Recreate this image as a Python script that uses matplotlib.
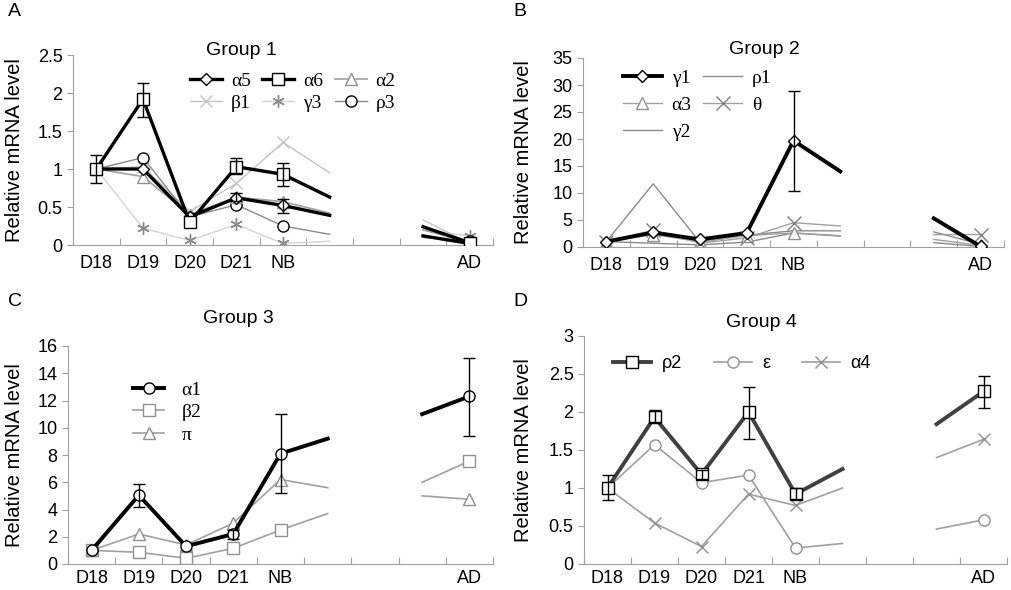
import numpy as np
import matplotlib
matplotlib.use("Agg")
import matplotlib.pyplot as plt

plt.rcParams['font.family'] = ['Liberation Sans', 'DejaVu Sans']

nan = np.nan
stages = ["D18", "D19", "D20", "D21", "NB", "", "", "", "AD"]
# index 5 and 7 are the unlabeled break points, 6 is the gap
x = np.arange(len(stages))

# Group 1
a5 = [1.0, 1.0, 0.37, 0.62, 0.52, 0.39, nan, 0.12, 0.02]
a6 = [1.0, 1.92, 0.30, 1.03, 0.93, 0.63, nan, 0.24, 0.03]
a2 = [1.0, 0.90, 0.40, 0.63, 0.57, 0.42, nan, 0.20, 0.03]
b1 = [1.0, 1.03, 0.44, 0.81, 1.35, 0.95, nan, 0.33, 0.02]
g3 = [1.0, 0.22, 0.06, 0.27, 0.02, 0.05, nan, 0.20, 0.12]
r3 = [1.0, 1.15, 0.37, 0.53, 0.25, 0.14, nan, 0.10, 0.05]
a6_lo = [0.82, 1.69, nan, 0.93, 0.77, nan, nan, nan, nan]
a6_hi = [1.18, 2.13, nan, 1.14, 1.08, nan, nan, nan, nan]
a5_lo = [nan, nan, nan, 0.58, 0.42, nan, nan, nan, nan]
a5_hi = [nan, nan, nan, 0.68, 0.60, nan, nan, nan, nan]

# Group 2
g1 = [1.0, 2.7, 1.4, 2.6, 19.7, 14.0, nan, 5.3, 0.1]
r1 = [1.0, 11.7, 0.9, 2.2, 3.0, 3.0, nan, 2.8, 0.5]
a3 = [1.0, 2.3, 1.0, 2.1, 2.6, 2.1, nan, 1.4, 0.3]
th = [1.0, 3.1, 0.7, 1.7, 4.5, 3.9, nan, 2.3, 2.3]
g2 = [1.0, 0.7, 0.4, 0.9, 2.6, 2.0, nan, 0.8, 0.1]
g1_lo = [nan, nan, nan, nan, 10.3, nan, nan, nan, nan]
g1_hi = [nan, nan, nan, nan, 28.9, nan, nan, nan, nan]

# Group 3
a1 = [1.0, 5.05, 1.3, 2.2, 8.1, 9.2, nan, 11.0, 12.3]
b2 = [1.0, 0.86, 0.42, 1.15, 2.5, 3.7, nan, 6.0, 7.55]
pi = [1.0, 2.2, 1.4, 3.0, 6.2, 5.6, nan, 5.0, 4.75]
a1_lo = [nan, 4.2, nan, 1.85, 5.2, nan, nan, nan, 9.4]
a1_hi = [nan, 5.9, nan, 2.5, 11.0, nan, nan, nan, 15.1]

# Group 4
r2 = [1.0, 1.93, 1.18, 2.0, 0.92, 1.25, nan, 1.84, 2.27]
ep = [1.0, 1.57, 1.07, 1.17, 0.21, 0.27, nan, 0.46, 0.58]
a4 = [1.0, 0.54, 0.23, 0.92, 0.77, 1.0, nan, 1.4, 1.64]
r2_lo = [0.84, 1.87, 1.12, 1.65, 0.85, nan, nan, nan, 2.05]
r2_hi = [1.17, 2.03, 1.24, 2.33, 1.0, nan, nan, nan, 2.47]

marked = [0, 1, 2, 3, 4, 8]
W, H = 1011, 590
fig = plt.figure(figsize=(W / 100, H / 100), dpi=100)


def make_ax(left, right, bottom, top, ymax, ystep, xpad, ylab_x):
    ax = fig.add_axes([left / W, 1 - bottom / H, (right - left) / W, (bottom - top) / H])
    ax.set_xlim(-0.5, 8.5)
    ax.set_ylim(0, ymax)
    ax.set_xticks(np.arange(-0.5, 9, 1))
    ax.set_xticklabels([])
    ax.set_xticks(x, minor=True)
    ax.set_xticklabels(stages, minor=True)
    ax.tick_params(axis='x', which='major', length=5, direction='in', color='#a0a0a0')
    ax.tick_params(axis='x', which='minor', length=0, labelsize=13, pad=xpad)
    yt = np.arange(0, ymax + ystep / 2, ystep)
    ax.set_yticks(yt)
    ax.set_yticklabels(['%g' % v for v in yt])
    ax.tick_params(axis='y', length=4, color='#a0a0a0', labelsize=13)
    for s in ['top', 'right']:
        ax.spines[s].set_visible(False)
    for s in ['left', 'bottom']:
        ax.spines[s].set_color('#a0a0a0')
    ax.set_ylabel("Relative mRNA level", fontsize=14.5)
    ax.yaxis.set_label_coords((ylab_x - left) / (right - left), 0.5)
    return ax


def series(ax, y, color, lw, marker, ms, label, mec=None, mfc='white', z=2):
    ax.plot(x, y, color=color, lw=lw, marker=marker, ms=ms, markevery=marked,
            mec=mec or color, mfc=mfc, mew=1.0, label=label, zorder=z)


def errs(ax, y, lo, hi, color='black'):
    y = np.array(y); lo = np.array(lo); hi = np.array(hi)
    m = ~np.isnan(lo)
    ax.errorbar(x[m], y[m], yerr=[y[m] - lo[m], hi[m] - y[m]], fmt='none',
                ecolor=color, elinewidth=1.0, capsize=4, capthick=1.0, zorder=5)


def legend(ax, order, px, py, **kw):
    h, l = ax.get_legend_handles_labels()
    hs = [h[l.index(k)] for k in order]
    ax.legend(hs, order, loc='upper left', bbox_to_anchor=(px / W, 1 - py / H),
              bbox_transform=fig.transFigure, frameon=False, borderpad=0,
              borderaxespad=0, **kw)


serif = {'family': 'Liberation Serif', 'size': 14}

# Panel A
ax = make_ax(73, 493, 245, 55, 2.5, 0.5, 7, 24)
series(ax, g3, '#d4d4d4', 1.0, (6, 2, 0), 9, 'γ3', mec='#8a8a8a')
series(ax, b1, '#c4c4c4', 1.0, 'x', 8, 'β1')
series(ax, r3, '#8a8a8a', 1.0, 'o', 8, 'ρ3', mec='black')
series(ax, a2, '#a0a0a0', 1.2, '^', 8, 'α2', mec='#909090')
series(ax, a5, 'black', 2.4, 'D', 6, 'α5', z=3)
series(ax, a6, 'black', 2.4, 's', 8, 'α6', z=3)
errs(ax, a6, a6_lo, a6_hi)
errs(ax, a5, a5_lo, a5_hi)
legend(ax, ['α5', 'β1', 'α6', 'γ3', 'α2', 'ρ3'], 190, 72, ncol=3,
       handlelength=1.65, handletextpad=0.45, columnspacing=0.6, labelspacing=0.25, prop=serif)
ax.text(0.4, 1.026, "Group 1", transform=ax.transAxes, ha='center', va='center', fontsize=14)

# Panel B
ax = make_ax(583, 1004, 247, 58, 35, 5, 7, 533)
series(ax, g2, '#8a8a8a', 1.0, None, 0, 'γ2')
series(ax, r1, '#8a8a8a', 1.0, None, 0, 'ρ1')
series(ax, a3, '#a0a0a0', 1.0, '^', 8, 'α3', mec='#909090')
series(ax, th, '#a0a0a0', 1.0, 'x', 10, 'θ', mec='#808080')
series(ax, g1, 'black', 2.8, 'D', 6, 'γ1', z=3)
errs(ax, g1, g1_lo, g1_hi)
legend(ax, ['γ1', 'α3', 'γ2', 'ρ1', 'θ'], 623, 69, ncol=2,
       handlelength=2.0, handletextpad=0.5, columnspacing=0.6, labelspacing=0.5, prop=serif)
ax.text(0.43, 1.044, "Group 2", transform=ax.transAxes, ha='center', va='center', fontsize=14)

# Panel C
ax = make_ax(68, 493, 564, 346, 16, 2, 4, 24)
series(ax, b2, '#a0a0a0', 1.2, 's', 8, 'β2', mec='#909090')
series(ax, pi, '#a0a0a0', 1.2, '^', 8, 'π', mec='#909090')
series(ax, a1, 'black', 2.8, 'o', 8, 'α1', z=3)
errs(ax, a1, a1_lo, a1_hi)
legend(ax, ['α1', 'β2', 'π'], 133, 381,
       handlelength=1.6, handletextpad=0.9, labelspacing=0.25, prop=serif)
ax.text(0.4, 1.124, "Group 3", transform=ax.transAxes, ha='center', va='center', fontsize=14)

# Panel D
ax = make_ax(584, 1007, 564, 336, 3, 0.5, 4, 533)
series(ax, ep, '#a0a0a0', 1.2, 'o', 8, 'ε', mec='#909090')
series(ax, a4, '#a0a0a0', 1.2, 'x', 9, 'α4', mec='#909090')
series(ax, r2, '#404040', 2.8, 's', 8, 'ρ2', mec='black', z=3)
errs(ax, r2, r2_lo, r2_hi)
legend(ax, ['ρ2', 'ε', 'α4'], 613, 355, ncol=3,
       handlelength=2.1, handletextpad=0.6, columnspacing=1.75, prop={'size': 13})
ax.text(0.42, 1.061, "Group 4", transform=ax.transAxes, ha='center', va='center', fontsize=14)

for lab, px, py in [("A", 8, 12), ("B", 513, 12), ("C", 8, 302), ("D", 513, 302)]:
    fig.text(px / W, 1 - py / H, lab, fontsize=14, ha='left', va='center')

fig.savefig("out.png", dpi=100)
